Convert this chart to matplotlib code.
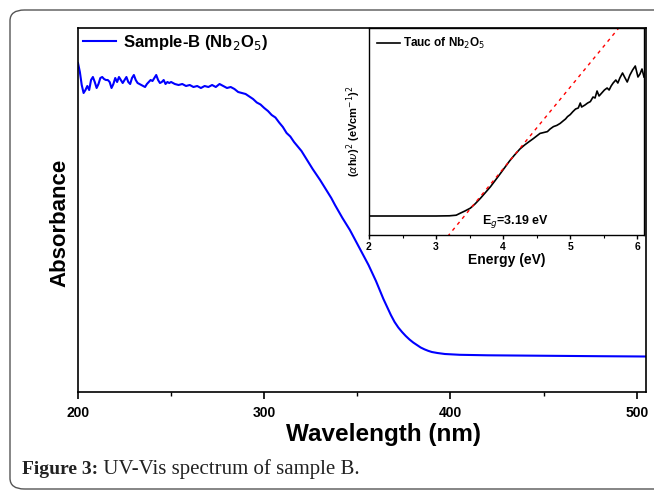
import matplotlib
matplotlib.use("Agg")
import matplotlib.pyplot as plt
from matplotlib.patches import FancyBboxPatch
from matplotlib.ticker import MultipleLocator

plt.rcParams['font.family'] = ['Liberation Sans', 'DejaVu Sans']

# ---- main UV-Vis spectrum (wavelength nm, absorbance a.u.) ----
wavelength = [200, 201, 202, 203, 204, 205, 206, 207, 208, 209, 210, 211, 212, 213, 214,
              215, 216, 217, 218, 219, 220, 221, 222, 223, 224, 225, 226, 227, 228, 229,
              230, 231, 232, 233, 234, 235, 236, 237, 238, 239, 240, 241, 242, 243, 244,
              245, 246, 247, 248, 249, 250, 252, 254, 256, 258, 260, 262, 264, 266, 268,
              270, 272, 274, 276, 278, 280, 282, 284, 286, 288, 290, 292, 294, 296, 298,
              300, 302, 304, 306, 308, 310, 312, 314, 316, 318, 320, 322, 324, 326, 328,
              330, 332, 334, 336, 338, 340, 342, 344, 346, 348, 350, 352, 354, 356, 358,
              360, 362, 364, 366, 368, 370, 372, 374, 376, 378, 380, 382, 384, 386, 388,
              390, 393, 397, 405, 420, 450, 480, 505]
absorbance = [3.29, 3.20, 3.07, 2.99, 3.02, 3.06, 3.02, 3.12, 3.15, 3.10, 3.04, 3.08, 3.14,
              3.15, 3.13, 3.12, 3.12, 3.10, 3.04, 3.08, 3.14, 3.10, 3.15, 3.12, 3.09, 3.12,
              3.15, 3.10, 3.08, 3.14, 3.17, 3.12, 3.09, 3.08, 3.07, 3.06, 3.05, 3.08, 3.10,
              3.12, 3.11, 3.14, 3.17, 3.12, 3.09, 3.10, 3.12, 3.08, 3.10, 3.09, 3.10, 3.08,
              3.07, 3.08, 3.06, 3.07, 3.05, 3.06, 3.04, 3.06, 3.05, 3.07, 3.05, 3.08, 3.06,
              3.04, 3.05, 3.03, 3.00, 2.99, 2.98, 2.955, 2.93, 2.895, 2.875,
              2.84, 2.81, 2.77, 2.745, 2.695, 2.65, 2.59, 2.555, 2.50, 2.455,
              2.41, 2.35, 2.29, 2.23, 2.175, 2.12, 2.06, 2.00, 1.94, 1.87,
              1.805, 1.74, 1.68, 1.62, 1.55, 1.48, 1.41, 1.34, 1.27, 1.19,
              1.11, 1.02, 0.93, 0.85, 0.77, 0.70, 0.645, 0.60, 0.56, 0.525,
              0.495, 0.47, 0.445, 0.427, 0.412, 0.40, 0.39, 0.38, 0.372, 0.367,
              0.362, 0.358, 0.355]

# ---- inset Tauc plot (energy eV, (alpha h nu)^2 a.u.) ----
energy = [2.0, 3.0, 3.2, 3.3, 3.36, 3.43, 3.51, 3.58, 3.66, 3.73, 3.81, 3.88, 3.96,
          4.03, 4.10, 4.17, 4.25, 4.32, 4.38, 4.45, 4.50, 4.55, 4.60, 4.66, 4.70, 4.75,
          4.80, 4.85, 4.90, 4.93, 4.96, 5.0, 5.04, 5.08, 5.12, 5.15, 5.17, 5.22, 5.26,
          5.30, 5.34, 5.37, 5.40, 5.43, 5.47, 5.51, 5.55, 5.58, 5.61, 5.64, 5.68, 5.71,
          5.74, 5.78, 5.81, 5.85, 5.89, 5.93, 5.97, 6.01, 6.04, 6.07, 6.1]
tauc = [0.95, 0.95, 0.96, 0.99, 1.09, 1.2, 1.34, 1.55, 1.83, 2.1, 2.41, 2.72, 3.08,
        3.4, 3.72, 4.0, 4.3, 4.5, 4.65, 4.82, 4.95, 5.08, 5.12, 5.17, 5.3, 5.42,
        5.48, 5.58, 5.72, 5.8, 5.92, 6.02, 6.17, 6.3, 6.35, 6.6, 6.4, 6.5, 6.6,
        6.67, 6.9, 6.85, 7.2, 6.95, 7.1, 7.25, 7.35, 7.25, 7.45, 7.6, 7.75, 7.6,
        7.85, 8.1, 7.9, 7.65, 8.0, 8.25, 8.45, 7.9, 8.05, 8.3, 7.9]
fit_energy = [3.1, 6.1]
fit_slope = 4.085
band_gap = 3.19

W, H = 654, 492
fig = plt.figure(figsize=(W / 100, H / 100), dpi=100)


def fx(px):
    return px / W


def fy(py):
    return 1 - py / H


# rounded frame
frame = FancyBboxPatch((fx(10), fy(489)), fx(700) - fx(10), fy(10) - fy(489),
                       boxstyle="round,pad=0,rounding_size=0.022",
                       transform=fig.transFigure, fill=False, edgecolor='#555555',
                       linewidth=1.0)
fig.add_artist(frame)

ax = fig.add_axes([fx(78), fy(392), fx(646) - fx(78), fy(28) - fy(392)])
ax.plot(wavelength, absorbance, color='#0000ff', lw=1.5, label='Sample-B (Nb$_2$O$_5$)')
ax.set_xlim(200, 505)
ax.set_ylim(0, 3.64)
ax.set_yticks([])
ax.xaxis.set_major_locator(MultipleLocator(100))
ax.xaxis.set_minor_locator(MultipleLocator(50))
ax.tick_params(axis='x', which='major', direction='out', length=5, width=1.2,
               labelsize=10, pad=5)
ax.tick_params(axis='x', which='minor', direction='out', length=3, width=1.0)
for lab in ax.get_xticklabels():
    lab.set_fontweight('bold')
for s in ax.spines.values():
    s.set_linewidth(1.2)
ax.set_xlabel('Wavelength (nm)', fontsize=17.5, fontweight='bold')
ax.xaxis.set_label_coords(0.537, -0.085)
ax.set_ylabel('Absorbance', fontsize=16, fontweight='bold')
ax.yaxis.set_label_coords(-0.032, 0.464)
ax.yaxis.label.set_va('center')
ax.legend(loc='upper left', frameon=False, prop={'weight': 'bold', 'size': 12},
          handlelength=2.0, handletextpad=0.4, borderaxespad=0.1, borderpad=0.2)

# inset
ins = fig.add_axes([fx(369), fy(235), fx(644) - fx(369), fy(28) - fy(235)])
ins.plot(energy, tauc, color='black', lw=1.2, label='Tauc of Nb$_2$O$_5$')
ins.plot(fit_energy, [fit_slope * (e - band_gap) for e in fit_energy],
         color='red', lw=1.0, ls=(0, (2.5, 3)))
ins.set_xlim(2, 6.1)
ins.set_ylim(0, 10.35)
ins.set_yticks([])
ins.xaxis.set_major_locator(MultipleLocator(1))
ins.xaxis.set_minor_locator(MultipleLocator(0.5))
ins.tick_params(axis='x', which='major', direction='out', length=3, width=1.0,
                labelsize=7.5, pad=2)
ins.tick_params(axis='x', which='minor', direction='out', length=2, width=0.8)
for lab in ins.get_xticklabels():
    lab.set_fontweight('bold')
for s in ins.spines.values():
    s.set_linewidth(1.0)
ins.set_xlabel('Energy (eV)', fontsize=10, fontweight='bold', labelpad=1)
ins.set_ylabel(r'($\alpha$h$\upsilon$)$^2$ (eVcm$^{-1}$)$^2$', fontsize=8,
               fontweight='bold', labelpad=4)
ins.text(4.18, 0.65, 'E$_g$=3.19 eV', fontsize=9, fontweight='bold',
         ha='center', va='center')
ins.legend(loc='upper left', frameon=False, prop={'weight': 'bold', 'size': 8.5},
           handlelength=1.9, handletextpad=0.3, borderaxespad=0.3)

# caption
t1 = fig.text(fx(22), fy(474), 'Figure 3:', fontsize=14, fontweight='bold',
              family=['Liberation Serif'], va='baseline', ha='left', color='#222222')
t2 = fig.text(fx(100), fy(474), ' UV-Vis spectrum of sample B.', fontsize=15,
              family=['Liberation Serif'], va='baseline', ha='left', color='#222222')
fig.canvas.draw()
bb = t1.get_window_extent(fig.canvas.get_renderer())
t2.set_x(bb.x1 / fig.bbox.width)

fig.savefig('out.png', dpi=100)
